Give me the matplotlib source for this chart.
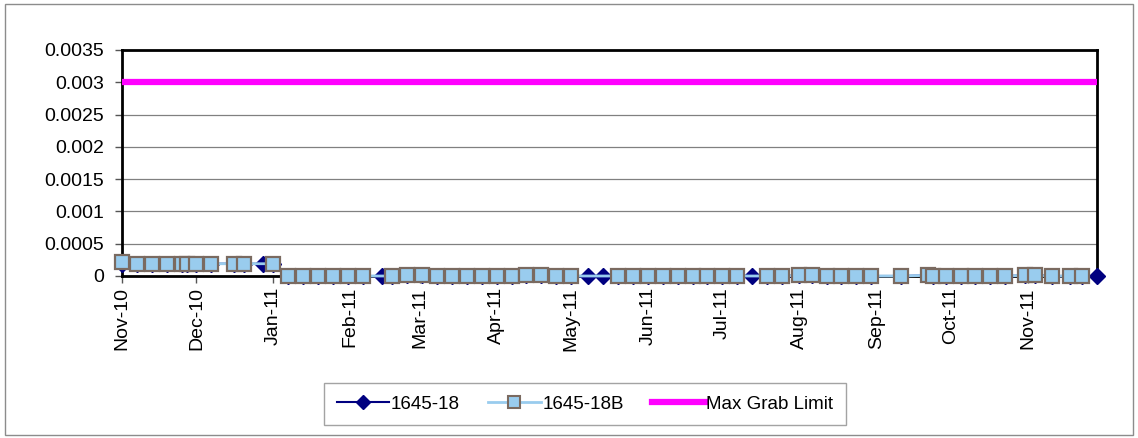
import matplotlib
matplotlib.use("Agg")
import matplotlib.pyplot as plt
import matplotlib.dates as mdates
from matplotlib.lines import Line2D
from matplotlib.patches import Rectangle
import datetime as dt

plt.rcParams['font.family'] = ['Liberation Sans', 'DejaVu Sans']

# ---- data ----
dates_18 = ["2010-11-01", "2010-11-07", "2010-11-13", "2010-11-19", "2010-11-25", "2010-11-27",
            "2010-12-01", "2010-12-07", "2010-12-16", "2010-12-20", "2010-12-28", "2011-01-01",
            "2011-01-07", "2011-01-13", "2011-01-19", "2011-01-25", "2011-01-31", "2011-02-06",
            "2011-02-14", "2011-02-18", "2011-02-24", "2011-03-02", "2011-03-08", "2011-03-14",
            "2011-03-20", "2011-03-26", "2011-04-01", "2011-04-07", "2011-04-13", "2011-04-19",
            "2011-04-25", "2011-05-01", "2011-05-08", "2011-05-14", "2011-05-20", "2011-05-26",
            "2011-06-01", "2011-06-07", "2011-06-13", "2011-06-19", "2011-06-25", "2011-07-01",
            "2011-07-07", "2011-07-13", "2011-07-19", "2011-07-25", "2011-08-01", "2011-08-06",
            "2011-08-12", "2011-08-18", "2011-08-24", "2011-08-30", "2011-09-11", "2011-09-22",
            "2011-09-24", "2011-09-29", "2011-10-05", "2011-10-11", "2011-10-17", "2011-10-23",
            "2011-10-31", "2011-11-04", "2011-11-11", "2011-11-18", "2011-11-23", "2011-11-29"]
values_18 = [0.00019, 0.00019, 0.00019, 0.00019, 0.00019, 0.00019,
             0.00019, 0.00019, 0.00019, 0.00019, 0.00019, 0.00019,
             0, 0, 0, 0, 0, 0,
             0, 0, 0.00001, 0.00002, 0, 0,
             0, 0, 0, 0, 0.00001, 0.00002,
             0, 0, 0, 0, 0, 0,
             0, 0, 0, 0, 0, 0,
             0, 0, 0, 0, 0.00001, 0.00001,
             0, 0, 0, 0, 0, 0.00001,
             0, 0, 0, 0, 0, 0,
             0.00001, 0.00001, 0, 0, 0, 0]

dates_18b = ["2010-11-01", "2010-11-07", "2010-11-13", "2010-11-19", "2010-11-25", "2010-11-27",
             "2010-12-01", "2010-12-07", "2010-12-16", "2010-12-20", "2011-01-01",
             "2011-01-07", "2011-01-13", "2011-01-19", "2011-01-25", "2011-01-31", "2011-02-06",
             "2011-02-18", "2011-02-24", "2011-03-02", "2011-03-08", "2011-03-14",
             "2011-03-20", "2011-03-26", "2011-04-01", "2011-04-07", "2011-04-13", "2011-04-19",
             "2011-04-25", "2011-05-01", "2011-05-20", "2011-05-26",
             "2011-06-01", "2011-06-07", "2011-06-13", "2011-06-19", "2011-06-25", "2011-07-01",
             "2011-07-07", "2011-07-19", "2011-07-25", "2011-08-01", "2011-08-06",
             "2011-08-12", "2011-08-18", "2011-08-24", "2011-08-30", "2011-09-11", "2011-09-22",
             "2011-09-24", "2011-09-29", "2011-10-05", "2011-10-11", "2011-10-17", "2011-10-23",
             "2011-10-31", "2011-11-04", "2011-11-11", "2011-11-18", "2011-11-23"]
values_18b = [0.00021, 0.00019, 0.00019, 0.00019, 0.00019, 0.00019,
              0.00019, 0.00019, 0.00019, 0.00019, 0.00019,
              0, 0, 0, 0, 0, 0,
              0, 0.00001, 0.00002, 0, 0,
              0, 0, 0, 0, 0.00001, 0.00002,
              0, 0, 0, 0,
              0, 0, 0, 0, 0, 0,
              0, 0, 0, 0.00001, 0.00001,
              0, 0, 0, 0, 0, 0.00001,
              0, 0, 0, 0, 0, 0,
              0.00001, 0.00001, 0, 0, 0]

limit_dates = ["2010-11-01", "2011-11-29"]
limit_values = [0.003, 0.003]

y_ticks = [0, 0.0005, 0.001, 0.0015, 0.002, 0.0025, 0.003, 0.0035]
y_labels = ["0", "0.0005", "0.001", "0.0015", "0.002", "0.0025", "0.003", "0.0035"]

def to_dt(lst):
    return [dt.datetime.strptime(s, "%Y-%m-%d") for s in lst]

# ---- figure ----
W, H = 1138, 438
fig = plt.figure(figsize=(W / 100, H / 100), dpi=100)
fig.patches.append(Rectangle((5 / W, 3 / H), (W - 10) / W, (H - 7) / H, transform=fig.transFigure,
                             fill=False, edgecolor='#8c8c8c', linewidth=1.0))

L, R, T, B = 122, 1097, 50, 276
ax = fig.add_axes([L / W, 1 - B / H, (R - L) / W, (B - T) / H])

ax.plot(to_dt(dates_18), values_18, color='#000080', linewidth=1.5, marker='D',
        markersize=8, markerfacecolor='#000080', markeredgecolor='#000080', zorder=3,
        clip_on=False, label='1645-18')
ax.plot(to_dt(dates_18b), values_18b, color='#99CCEE', linewidth=2.0, marker='s',
        markersize=9.5, markerfacecolor='#99CCEE', markeredgecolor='#7a6a60',
        markeredgewidth=1.6, zorder=4, clip_on=False, label='1645-18B')
ax.plot(to_dt(limit_dates), limit_values, color='#FF00FF', linewidth=4.5, zorder=5,
        solid_capstyle='butt', label='Max Grab Limit')

ax.set_xlim(dt.datetime(2010, 11, 1), dt.datetime(2011, 11, 29))
ax.set_ylim(0, 0.0035)
ax.set_yticks(y_ticks)
ax.set_yticklabels(y_labels)
ax.yaxis.grid(True, color='#808080', linewidth=0.9)
ax.set_axisbelow(True)

ax.xaxis.set_major_locator(mdates.MonthLocator())
ax.xaxis.set_major_formatter(mdates.DateFormatter('%b-%y'))
for lab in ax.get_xticklabels():
    lab.set_rotation(90)

ax.tick_params(axis='both', labelsize=14, direction='out', length=5, width=1, color='#555555')
ax.tick_params(axis='x', pad=3)
ax.tick_params(axis='y', pad=8)
for sp in ax.spines.values():
    sp.set_linewidth(2)
    sp.set_color('black')

handles = [
    Line2D([], [], color='#000080', linewidth=1.5, marker='D', markersize=7,
           markerfacecolor='#000080', markeredgecolor='#000080'),
    Line2D([], [], color='#99CCEE', linewidth=2.0, marker='s', markersize=8,
           markerfacecolor='#99CCEE', markeredgecolor='#7a6a60', markeredgewidth=1.5),
    Line2D([], [], color='#FF00FF', linewidth=4.5),
]
leg = fig.legend(handles, ['1645-18', '1645-18B', 'Max Grab Limit'], ncol=3,
                 loc='center', bbox_to_anchor=(585 / W, 1 - 404 / H), fontsize=13.5,
                 frameon=True, fancybox=False, edgecolor='#8c8c8c', handlelength=2.8,
                 handletextpad=0.1, columnspacing=1.5, borderpad=0.65)
leg.get_frame().set_linewidth(1.0)

fig.savefig('out.png', dpi=100)
